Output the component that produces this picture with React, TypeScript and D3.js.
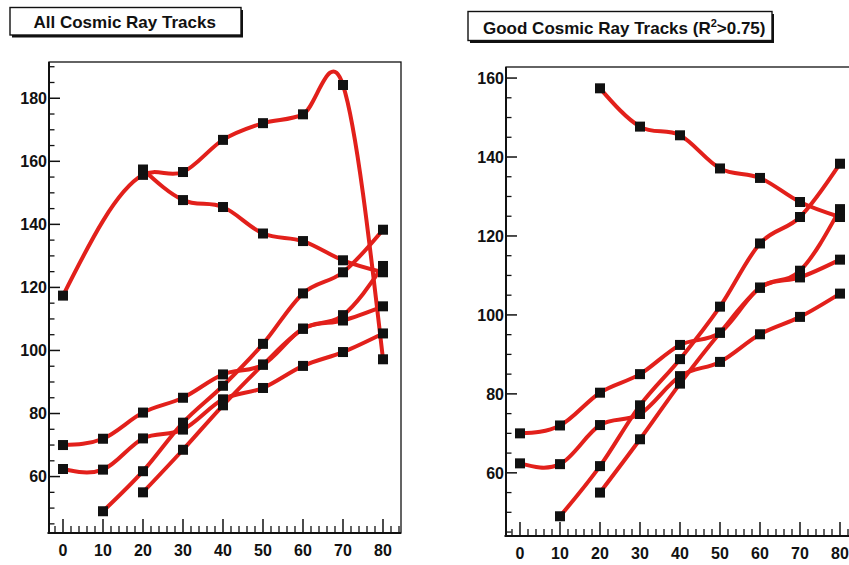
import React from 'react';
import * as d3 from 'd3';

// Tick values
const POSITION_TICKS = [0, 10, 20, 30, 40, 50, 60, 70, 80];
const LEFT_Y_TICKS = [60, 80, 100, 120, 140, 160, 180];
const RIGHT_Y_TICKS = [60, 80, 100, 120, 140, 160];

// Track A only appears among all tracks (fails the R^2 cut)
const trackAX = [0, 20, 30, 40, 50, 60, 70, 80];
const trackAY = [117.4, 155.7, 156.6, 166.8, 172.1, 174.9, 184.2, 97.2];

const trackBX = [20, 30, 40, 50, 60, 70, 80];
const trackBY = [157.4, 147.7, 145.5, 137.1, 134.7, 128.6, 124.8];

const track1X = [0, 10, 20, 30, 40, 50, 60, 70, 80];
const track1Y = [70.0, 72.0, 80.3, 85.0, 92.4, 95.5, 106.9, 109.5, 114.0];

const track2X = [0, 10, 20, 30, 40, 50, 60, 70, 80];
const track2Y = [62.4, 62.2, 72.1, 74.9, 84.5, 88.1, 95.1, 99.5, 105.4];

const track3X = [10, 20, 30, 40, 50, 60, 70, 80];
const track3Y = [49.0, 61.7, 77.1, 88.8, 102.1, 118.1, 124.8, 138.3];

const track4X = [20, 30, 40, 50, 60, 70, 80];
const track4Y = [55.0, 68.5, 82.6, 95.5, 106.9, 111.2, 126.8];

const ALL_TRACKS = [
  [trackAX, trackAY],
  [trackBX, trackBY],
  [track1X, track1Y],
  [track2X, track2Y],
  [track3X, track3Y],
  [track4X, track4Y],
];
const GOOD_TRACKS = ALL_TRACKS.slice(1);

const FONT = '"Liberation Sans", Arial, Helvetica, sans-serif';
const LINE_RED = '#e2201b';

// Smooth interpolating spline y(x): Bessel (three-point parabola) slopes at
// interior points, free (natural) ends, drawn as cubic Bezier segments.
function smoothCurve(context: any) {
  let pts: number[][] = [];
  return {
    areaStart() {},
    areaEnd() {},
    lineStart() {
      pts = [];
    },
    point(x: number, y: number) {
      pts.push([+x, +y]);
    },
    lineEnd() {
      const n = pts.length;
      if (!n) return;
      context.moveTo(pts[0][0], pts[0][1]);
      if (n === 2) {
        context.lineTo(pts[1][0], pts[1][1]);
        return;
      }
      if (n < 2) return;
      const h: number[] = [];
      const s: number[] = [];
      for (let i = 0; i < n - 1; i++) {
        h[i] = pts[i + 1][0] - pts[i][0];
        s[i] = (pts[i + 1][1] - pts[i][1]) / h[i];
      }
      const m: number[] = new Array(n);
      for (let i = 1; i < n - 1; i++) {
        m[i] = (s[i - 1] * h[i] + s[i] * h[i - 1]) / (h[i - 1] + h[i]);
      }
      m[0] = (3 * s[0] - m[1]) / 2;
      m[n - 1] = (3 * s[n - 2] - m[n - 2]) / 2;
      for (let i = 0; i < n - 1; i++) {
        const d = h[i] / 3;
        context.bezierCurveTo(
          pts[i][0] + d,
          pts[i][1] + m[i] * d,
          pts[i + 1][0] - d,
          pts[i + 1][1] - m[i + 1] * d,
          pts[i + 1][0],
          pts[i + 1][1]
        );
      }
    },
  };
}

type PanelProps = {
  left: number;
  right: number;
  top: number;
  bottom: number;
  yDomain: [number, number];
  yTicks: number[];
  tracks: number[][][];
  clipId: string;
};

function Panel({ left, right, top, bottom, yDomain, yTicks, tracks, clipId }: PanelProps) {
  const x = d3.scaleLinear().domain([-3.5, 84.5]).range([left, right]);
  const y = d3.scaleLinear().domain(yDomain).range([bottom, top]);
  const line = d3
    .line<number[]>()
    .x((d) => x(d[0]))
    .y((d) => y(d[1]))
    .curve(smoothCurve as any);

  const xMinor = d3.range(-2, 85, 2).filter((v) => v % 10 !== 0);
  const yMinor = d3
    .range(Math.ceil(yDomain[0] / 5) * 5, yDomain[1], 5)
    .filter((v) => v % 20 !== 0);
  const marker = 10;

  return (
    <g>
      <clipPath id={clipId}>
        <rect x={left} y={top} width={right - left} height={bottom - top} />
      </clipPath>
      <rect x={left} y={top} width={right - left} height={bottom - top} fill="white" stroke="#111" strokeWidth={1.3} />
      <line x1={left} x2={left} y1={top} y2={bottom} stroke="#111" strokeWidth={2} />
      <line x1={left - 1.5} x2={right} y1={bottom} y2={bottom} stroke="#111" strokeWidth={2} />

      {/* y ticks */}
      {yTicks.map((v) => (
        <g key={'yt' + v}>
          <line x1={left - 1} x2={left + 11} y1={y(v)} y2={y(v)} stroke="#111" strokeWidth={1.5} />
          <text
            x={left - 2}
            y={y(v)}
            dy="0.36em"
            textAnchor="end"
            fontFamily={FONT}
            fontWeight="bold"
            fontSize={16}
            fill="#111"
          >
            {v}
          </text>
        </g>
      ))}
      {yMinor.map((v) => (
        <line key={'ym' + v} x1={left} x2={left + 5.5} y1={y(v)} y2={y(v)} stroke="#111" strokeWidth={1.3} />
      ))}

      {/* x ticks */}
      {POSITION_TICKS.map((v) => (
        <g key={'xt' + v}>
          <line x1={x(v)} x2={x(v)} y1={bottom} y2={bottom - 14} stroke="#111" strokeWidth={1.5} />
          <text
            x={x(v)}
            y={bottom + 23}
            textAnchor="middle"
            fontFamily={FONT}
            fontWeight="bold"
            fontSize={16}
            fill="#111"
          >
            {v}
          </text>
        </g>
      ))}
      {xMinor.map((v) => (
        <line key={'xm' + v} x1={x(v)} x2={x(v)} y1={bottom} y2={bottom - 7} stroke="#111" strokeWidth={1.3} />
      ))}

      {/* tracks */}
      <g clipPath={`url(#${clipId})`}>
        {tracks.map(([xs, ys], i) => (
          <path
            key={'tr' + i}
            d={line(xs.map((v, j) => [v, ys[j]])) || ''}
            fill="none"
            stroke={LINE_RED}
            strokeWidth={4}
            strokeLinejoin="round"
            strokeLinecap="round"
          />
        ))}
      </g>
      {tracks.map(([xs, ys], i) =>
        xs.map((v, j) => (
          <rect
            key={'m' + i + '-' + j}
            x={x(v) - marker / 2}
            y={y(ys[j]) - marker / 2}
            width={marker}
            height={marker}
            fill="#111"
          />
        ))
      )}
    </g>
  );
}

function TitleBox({ x, y, w, h, children, textX, textY }: any) {
  return (
    <g>
      <rect x={x + 2} y={y + 2.5} width={w} height={h} fill="#111" />
      <rect x={x} y={y} width={w} height={h} fill="white" stroke="#111" strokeWidth={1.4} />
      <text x={textX} y={textY} fontFamily={FONT} fontWeight="bold" fontSize={17} fill="#111">
        {children}
      </text>
    </g>
  );
}

export default function App() {
  return (
    <svg
      width={849}
      height={565}
      viewBox="0 0 849 565"
      style={{ position: 'absolute', left: 0, top: 0, display: 'block', background: 'white' }}
    >
      <rect x={0} y={0} width={849} height={565} fill="white" />
      <TitleBox x={10} y={7.5} w={231} h={27.5} textX={33.5} textY={28.3}>
        All Cosmic Ray Tracks
      </TitleBox>
      <TitleBox x={468} y={11.5} w={304} h={29} textX={483} textY={34}>
        Good Cosmic Ray Tracks (R
        <tspan fontSize={11} dy={-7}>
          2
        </tspan>
        <tspan dy={7}>&gt;0.75)</tspan>
      </TitleBox>

      <Panel
        left={49}
        right={401}
        top={62}
        bottom={533}
        yDomain={[42.1, 191.5]}
        yTicks={LEFT_Y_TICKS}
        tracks={ALL_TRACKS}
        clipId="clip-all"
      />
      <Panel
        left={506}
        right={858}
        top={67}
        bottom={536}
        yDomain={[44.0, 162.8]}
        yTicks={RIGHT_Y_TICKS}
        tracks={GOOD_TRACKS}
        clipId="clip-good"
      />
    </svg>
  );
}
